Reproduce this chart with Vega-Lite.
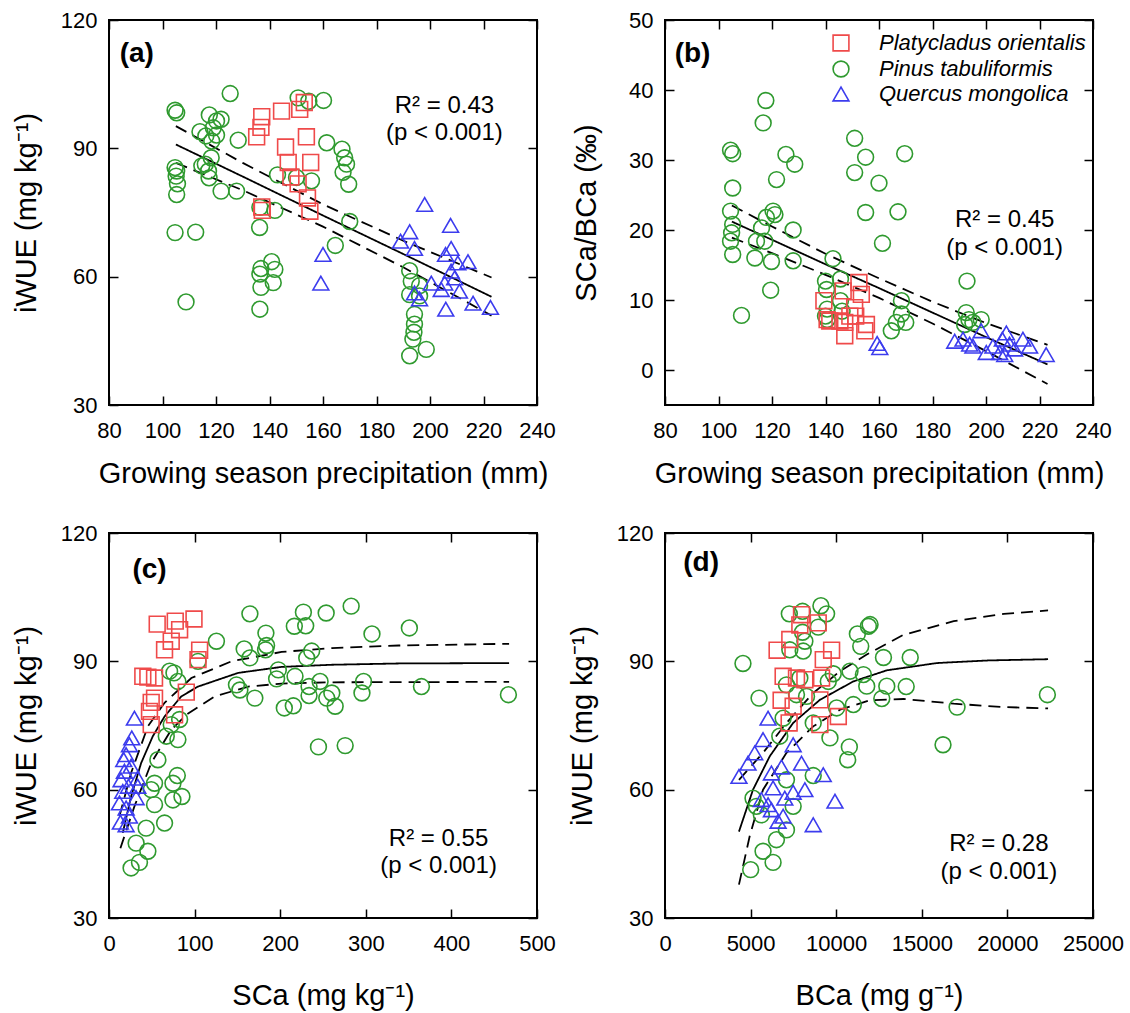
{
  "$schema": "https://vega.github.io/schema/vega-lite/v6.json",
  "padding": {"left": 11, "top": 8, "right": 5, "bottom": 5},
  "background": "white",
  "datasets": {
    "pA": [
      {"x":104.7,"y":98.9,"s":"Pinus tabuliformis"},{"x":105.3,"y":98.3,"s":"Pinus tabuliformis"},{"x":125.3,"y":102.8,"s":"Pinus tabuliformis"},{"x":117.5,"y":97.8,"s":"Pinus tabuliformis"},{"x":120.2,"y":96.4,"s":"Pinus tabuliformis"},{"x":121.9,"y":96.8,"s":"Pinus tabuliformis"},{"x":119,"y":94.8,"s":"Pinus tabuliformis"},{"x":114,"y":93.9,"s":"Pinus tabuliformis"},{"x":116.2,"y":92.9,"s":"Pinus tabuliformis"},{"x":120.2,"y":93.1,"s":"Pinus tabuliformis"},{"x":118.4,"y":91.7,"s":"Pinus tabuliformis"},{"x":128.3,"y":91.9,"s":"Pinus tabuliformis"},{"x":150.7,"y":101.8,"s":"Pinus tabuliformis"},{"x":154.7,"y":101,"s":"Pinus tabuliformis"},{"x":160.2,"y":101.2,"s":"Pinus tabuliformis"},{"x":161.4,"y":91.3,"s":"Pinus tabuliformis"},{"x":167.1,"y":89.8,"s":"Pinus tabuliformis"},{"x":168.1,"y":87.8,"s":"Pinus tabuliformis"},{"x":168.8,"y":86.3,"s":"Pinus tabuliformis"},{"x":167.5,"y":84.4,"s":"Pinus tabuliformis"},{"x":169.6,"y":81.6,"s":"Pinus tabuliformis"},{"x":104.7,"y":85.5,"s":"Pinus tabuliformis"},{"x":105.3,"y":84.7,"s":"Pinus tabuliformis"},{"x":105.1,"y":83.5,"s":"Pinus tabuliformis"},{"x":105.6,"y":81.7,"s":"Pinus tabuliformis"},{"x":105.3,"y":79.2,"s":"Pinus tabuliformis"},{"x":118.2,"y":87.8,"s":"Pinus tabuliformis"},{"x":116,"y":86.3,"s":"Pinus tabuliformis"},{"x":117.2,"y":84.7,"s":"Pinus tabuliformis"},{"x":114.7,"y":85.9,"s":"Pinus tabuliformis"},{"x":117.4,"y":83.1,"s":"Pinus tabuliformis"},{"x":121.9,"y":80,"s":"Pinus tabuliformis"},{"x":127.7,"y":80,"s":"Pinus tabuliformis"},{"x":143,"y":83.8,"s":"Pinus tabuliformis"},{"x":150.1,"y":83.2,"s":"Pinus tabuliformis"},{"x":155.7,"y":82.4,"s":"Pinus tabuliformis"},{"x":104.7,"y":70.3,"s":"Pinus tabuliformis"},{"x":112.4,"y":70.4,"s":"Pinus tabuliformis"},{"x":108.8,"y":54.1,"s":"Pinus tabuliformis"},{"x":136.4,"y":76.2,"s":"Pinus tabuliformis"},{"x":142,"y":75.5,"s":"Pinus tabuliformis"},{"x":136.3,"y":71.5,"s":"Pinus tabuliformis"},{"x":136.8,"y":61.9,"s":"Pinus tabuliformis"},{"x":140.8,"y":63.5,"s":"Pinus tabuliformis"},{"x":142,"y":61.7,"s":"Pinus tabuliformis"},{"x":136.4,"y":60.6,"s":"Pinus tabuliformis"},{"x":141.4,"y":58.6,"s":"Pinus tabuliformis"},{"x":136.8,"y":57.5,"s":"Pinus tabuliformis"},{"x":136.4,"y":52.4,"s":"Pinus tabuliformis"},{"x":170,"y":72.9,"s":"Pinus tabuliformis"},{"x":164.6,"y":67.3,"s":"Pinus tabuliformis"},{"x":192.4,"y":61.4,"s":"Pinus tabuliformis"},{"x":193,"y":58.9,"s":"Pinus tabuliformis"},{"x":196.1,"y":57.9,"s":"Pinus tabuliformis"},{"x":196.1,"y":55.5,"s":"Pinus tabuliformis"},{"x":192.4,"y":55.8,"s":"Pinus tabuliformis"},{"x":194.2,"y":51.2,"s":"Pinus tabuliformis"},{"x":194.2,"y":48.9,"s":"Pinus tabuliformis"},{"x":194,"y":47,"s":"Pinus tabuliformis"},{"x":193.6,"y":45.4,"s":"Pinus tabuliformis"},{"x":192.4,"y":41.5,"s":"Pinus tabuliformis"},{"x":198.6,"y":43,"s":"Pinus tabuliformis"},
      {"x":137.1,"y":97.4,"s":"Platycladus orientalis"},{"x":136.8,"y":94.9,"s":"Platycladus orientalis"},{"x":135.2,"y":92.7,"s":"Platycladus orientalis"},{"x":144.5,"y":98.7,"s":"Platycladus orientalis"},{"x":151.3,"y":99.1,"s":"Platycladus orientalis"},{"x":153,"y":100.7,"s":"Platycladus orientalis"},{"x":153.8,"y":92.7,"s":"Platycladus orientalis"},{"x":146,"y":90.3,"s":"Platycladus orientalis"},{"x":147,"y":86.7,"s":"Platycladus orientalis"},{"x":155.4,"y":86.7,"s":"Platycladus orientalis"},{"x":148,"y":83.3,"s":"Platycladus orientalis"},{"x":150.7,"y":81.7,"s":"Platycladus orientalis"},{"x":154.2,"y":78.4,"s":"Platycladus orientalis"},{"x":137.1,"y":76.3,"s":"Platycladus orientalis"},{"x":137.3,"y":75.5,"s":"Platycladus orientalis"},{"x":155.1,"y":75.3,"s":"Platycladus orientalis"},
      {"x":198,"y":76.9,"s":"Quercus mongolica"},{"x":207.7,"y":72,"s":"Quercus mongolica"},{"x":192.4,"y":70.5,"s":"Quercus mongolica"},{"x":189,"y":68.3,"s":"Quercus mongolica"},{"x":194.2,"y":66.6,"s":"Quercus mongolica"},{"x":207.9,"y":66.6,"s":"Quercus mongolica"},{"x":205.8,"y":65.2,"s":"Quercus mongolica"},{"x":214.2,"y":63.5,"s":"Quercus mongolica"},{"x":210.4,"y":63.2,"s":"Quercus mongolica"},{"x":207.9,"y":61.3,"s":"Quercus mongolica"},{"x":209.2,"y":59.7,"s":"Quercus mongolica"},{"x":200.5,"y":58.5,"s":"Quercus mongolica"},{"x":205.5,"y":58.5,"s":"Quercus mongolica"},{"x":194.2,"y":56.2,"s":"Quercus mongolica"},{"x":196.1,"y":54.8,"s":"Quercus mongolica"},{"x":216.1,"y":53.8,"s":"Quercus mongolica"},{"x":222.6,"y":52.8,"s":"Quercus mongolica"},{"x":205.9,"y":52.4,"s":"Quercus mongolica"},{"x":160,"y":65.2,"s":"Quercus mongolica"},{"x":159.2,"y":58.5,"s":"Quercus mongolica"},{"x":204.2,"y":57,"s":"Quercus mongolica"},{"x":211,"y":56.6,"s":"Quercus mongolica"}
    ],
    "pB": [
      {"x":117.7,"y":38.5,"s":"Pinus tabuliformis"},{"x":116.7,"y":35.3,"s":"Pinus tabuliformis"},{"x":104.5,"y":31.4,"s":"Pinus tabuliformis"},{"x":105.3,"y":30.9,"s":"Pinus tabuliformis"},{"x":125.2,"y":30.8,"s":"Pinus tabuliformis"},{"x":128.5,"y":29.4,"s":"Pinus tabuliformis"},{"x":121.7,"y":27.2,"s":"Pinus tabuliformis"},{"x":105.3,"y":26,"s":"Pinus tabuliformis"},{"x":150.9,"y":33.1,"s":"Pinus tabuliformis"},{"x":155,"y":30.4,"s":"Pinus tabuliformis"},{"x":150.9,"y":28.2,"s":"Pinus tabuliformis"},{"x":160,"y":26.7,"s":"Pinus tabuliformis"},{"x":169.6,"y":30.9,"s":"Pinus tabuliformis"},{"x":155,"y":22.5,"s":"Pinus tabuliformis"},{"x":167.1,"y":22.6,"s":"Pinus tabuliformis"},{"x":104.5,"y":22.7,"s":"Pinus tabuliformis"},{"x":105.3,"y":20.8,"s":"Pinus tabuliformis"},{"x":104.9,"y":19.6,"s":"Pinus tabuliformis"},{"x":104.5,"y":18.4,"s":"Pinus tabuliformis"},{"x":105.3,"y":16.5,"s":"Pinus tabuliformis"},{"x":117.9,"y":21.8,"s":"Pinus tabuliformis"},{"x":120.4,"y":22.7,"s":"Pinus tabuliformis"},{"x":121.1,"y":22.2,"s":"Pinus tabuliformis"},{"x":116.1,"y":20.3,"s":"Pinus tabuliformis"},{"x":117.3,"y":18.4,"s":"Pinus tabuliformis"},{"x":114.2,"y":18.4,"s":"Pinus tabuliformis"},{"x":127.9,"y":20,"s":"Pinus tabuliformis"},{"x":127.9,"y":15.6,"s":"Pinus tabuliformis"},{"x":113.6,"y":16,"s":"Pinus tabuliformis"},{"x":119.8,"y":15.5,"s":"Pinus tabuliformis"},{"x":108.6,"y":7.8,"s":"Pinus tabuliformis"},{"x":119.5,"y":11.4,"s":"Pinus tabuliformis"},{"x":142.8,"y":15.9,"s":"Pinus tabuliformis"},{"x":161.3,"y":18.1,"s":"Pinus tabuliformis"},{"x":140,"y":12.7,"s":"Pinus tabuliformis"},{"x":140.4,"y":11.5,"s":"Pinus tabuliformis"},{"x":145.6,"y":13,"s":"Pinus tabuliformis"},{"x":145.6,"y":9.9,"s":"Pinus tabuliformis"},{"x":146.2,"y":8.4,"s":"Pinus tabuliformis"},{"x":140.6,"y":8.7,"s":"Pinus tabuliformis"},{"x":140,"y":7.7,"s":"Pinus tabuliformis"},{"x":140.6,"y":7.2,"s":"Pinus tabuliformis"},{"x":168.4,"y":9.9,"s":"Pinus tabuliformis"},{"x":168.4,"y":8,"s":"Pinus tabuliformis"},{"x":166.5,"y":6.8,"s":"Pinus tabuliformis"},{"x":164.6,"y":5.6,"s":"Pinus tabuliformis"},{"x":170,"y":6.8,"s":"Pinus tabuliformis"},{"x":192.9,"y":12.7,"s":"Pinus tabuliformis"},{"x":192.6,"y":8.2,"s":"Pinus tabuliformis"},{"x":193.6,"y":7.2,"s":"Pinus tabuliformis"},{"x":198.2,"y":7.2,"s":"Pinus tabuliformis"},{"x":195.1,"y":6.8,"s":"Pinus tabuliformis"},{"x":192,"y":6.5,"s":"Pinus tabuliformis"},
      {"x":139.4,"y":9.9,"s":"Platycladus orientalis"},{"x":140.6,"y":7.2,"s":"Platycladus orientalis"},{"x":141.6,"y":7,"s":"Platycladus orientalis"},{"x":146.6,"y":11.3,"s":"Platycladus orientalis"},{"x":152.5,"y":12.5,"s":"Platycladus orientalis"},{"x":153.4,"y":10.8,"s":"Platycladus orientalis"},{"x":150.9,"y":8.9,"s":"Platycladus orientalis"},{"x":151.3,"y":7.7,"s":"Platycladus orientalis"},{"x":147.2,"y":6.8,"s":"Platycladus orientalis"},{"x":147.2,"y":4.9,"s":"Platycladus orientalis"},{"x":155.3,"y":6.5,"s":"Platycladus orientalis"},{"x":154.7,"y":5.6,"s":"Platycladus orientalis"},{"x":149.1,"y":7.7,"s":"Platycladus orientalis"},{"x":145.4,"y":7,"s":"Platycladus orientalis"},
      {"x":159.3,"y":3.8,"s":"Quercus mongolica"},{"x":160.3,"y":3.2,"s":"Quercus mongolica"},{"x":188.3,"y":4.1,"s":"Quercus mongolica"},{"x":191.4,"y":4.4,"s":"Quercus mongolica"},{"x":198.2,"y":5.6,"s":"Quercus mongolica"},{"x":193.9,"y":3.7,"s":"Quercus mongolica"},{"x":200.1,"y":2.5,"s":"Quercus mongolica"},{"x":205.1,"y":2.5,"s":"Quercus mongolica"},{"x":206.1,"y":4.4,"s":"Quercus mongolica"},{"x":207.6,"y":5.3,"s":"Quercus mongolica"},{"x":208.8,"y":3.7,"s":"Quercus mongolica"},{"x":213.8,"y":4.4,"s":"Quercus mongolica"},{"x":216.3,"y":3.4,"s":"Quercus mongolica"},{"x":222.5,"y":2.2,"s":"Quercus mongolica"},{"x":210.7,"y":3,"s":"Quercus mongolica"},{"x":202.6,"y":3.4,"s":"Quercus mongolica"},{"x":195.1,"y":3.4,"s":"Quercus mongolica"},{"x":207,"y":2.2,"s":"Quercus mongolica"}
    ],
    "pC": [
      {"x":164.6,"y":101.1,"s":"Pinus tabuliformis"},{"x":227.1,"y":101.5,"s":"Pinus tabuliformis"},{"x":253.7,"y":101.3,"s":"Pinus tabuliformis"},{"x":282.9,"y":102.9,"s":"Pinus tabuliformis"},{"x":216.5,"y":98.2,"s":"Pinus tabuliformis"},{"x":229.8,"y":98.3,"s":"Pinus tabuliformis"},{"x":307.2,"y":96.4,"s":"Pinus tabuliformis"},{"x":350.9,"y":97.8,"s":"Pinus tabuliformis"},{"x":183.3,"y":96.6,"s":"Pinus tabuliformis"},{"x":125.5,"y":94.7,"s":"Pinus tabuliformis"},{"x":157.9,"y":92.9,"s":"Pinus tabuliformis"},{"x":184.1,"y":93.7,"s":"Pinus tabuliformis"},{"x":182.9,"y":92.7,"s":"Pinus tabuliformis"},{"x":164.6,"y":90.8,"s":"Pinus tabuliformis"},{"x":236.8,"y":92.4,"s":"Pinus tabuliformis"},{"x":231,"y":90.8,"s":"Pinus tabuliformis"},{"x":104,"y":90,"s":"Pinus tabuliformis"},{"x":75.9,"y":87.3,"s":"Pinus tabuliformis"},{"x":80.5,"y":85.3,"s":"Pinus tabuliformis"},{"x":197.8,"y":88,"s":"Pinus tabuliformis"},{"x":217.3,"y":86.5,"s":"Pinus tabuliformis"},{"x":195.8,"y":85.9,"s":"Pinus tabuliformis"},{"x":148.9,"y":84.5,"s":"Pinus tabuliformis"},{"x":152.9,"y":83.3,"s":"Pinus tabuliformis"},{"x":170.4,"y":81.4,"s":"Pinus tabuliformis"},{"x":246.6,"y":85.3,"s":"Pinus tabuliformis"},{"x":233.7,"y":84.1,"s":"Pinus tabuliformis"},{"x":233.7,"y":82,"s":"Pinus tabuliformis"},{"x":260.3,"y":82.6,"s":"Pinus tabuliformis"},{"x":254.4,"y":81.4,"s":"Pinus tabuliformis"},{"x":264.2,"y":79.5,"s":"Pinus tabuliformis"},{"x":297.4,"y":85.3,"s":"Pinus tabuliformis"},{"x":295.5,"y":82.6,"s":"Pinus tabuliformis"},{"x":365,"y":84.1,"s":"Pinus tabuliformis"},{"x":466.6,"y":82.2,"s":"Pinus tabuliformis"},{"x":204.8,"y":79.1,"s":"Pinus tabuliformis"},{"x":215.3,"y":79.6,"s":"Pinus tabuliformis"},{"x":244.7,"y":70,"s":"Pinus tabuliformis"},{"x":275.9,"y":70.3,"s":"Pinus tabuliformis"},{"x":82.5,"y":76.4,"s":"Pinus tabuliformis"},{"x":80.5,"y":71.7,"s":"Pinus tabuliformis"},{"x":66.9,"y":72.5,"s":"Pinus tabuliformis"},{"x":57.1,"y":67,"s":"Pinus tabuliformis"},{"x":79.8,"y":63.3,"s":"Pinus tabuliformis"},{"x":74.7,"y":61.5,"s":"Pinus tabuliformis"},{"x":53.2,"y":61.5,"s":"Pinus tabuliformis"},{"x":49.3,"y":60,"s":"Pinus tabuliformis"},{"x":85.2,"y":58.4,"s":"Pinus tabuliformis"},{"x":74.7,"y":57.6,"s":"Pinus tabuliformis"},{"x":53.2,"y":56.5,"s":"Pinus tabuliformis"},{"x":64.9,"y":52.2,"s":"Pinus tabuliformis"},{"x":43.4,"y":51,"s":"Pinus tabuliformis"},{"x":31.7,"y":47.5,"s":"Pinus tabuliformis"},{"x":45.4,"y":45.6,"s":"Pinus tabuliformis"},{"x":35.6,"y":43,"s":"Pinus tabuliformis"},{"x":25.8,"y":41.7,"s":"Pinus tabuliformis"},{"x":70.8,"y":87.7,"s":"Pinus tabuliformis"},{"x":72.7,"y":75.2,"s":"Pinus tabuliformis"},
      {"x":56.3,"y":98.7,"s":"Platycladus orientalis"},{"x":77.4,"y":99.4,"s":"Platycladus orientalis"},{"x":82.5,"y":97.4,"s":"Platycladus orientalis"},{"x":99.3,"y":99.9,"s":"Platycladus orientalis"},{"x":72.7,"y":94.7,"s":"Platycladus orientalis"},{"x":64.9,"y":92.7,"s":"Platycladus orientalis"},{"x":105.9,"y":92.6,"s":"Platycladus orientalis"},{"x":104,"y":90.4,"s":"Platycladus orientalis"},{"x":39.5,"y":86.5,"s":"Platycladus orientalis"},{"x":45.4,"y":86.3,"s":"Platycladus orientalis"},{"x":53.2,"y":86.1,"s":"Platycladus orientalis"},{"x":90.3,"y":82.8,"s":"Platycladus orientalis"},{"x":53.2,"y":81.4,"s":"Platycladus orientalis"},{"x":49.3,"y":80.4,"s":"Platycladus orientalis"},{"x":47.3,"y":78.3,"s":"Platycladus orientalis"},{"x":76.6,"y":77.5,"s":"Platycladus orientalis"},{"x":49.3,"y":75.2,"s":"Platycladus orientalis"},
      {"x":29.7,"y":76.7,"s":"Quercus mongolica"},{"x":26.6,"y":72.1,"s":"Quercus mongolica"},{"x":23.9,"y":70.5,"s":"Quercus mongolica"},{"x":20,"y":68.2,"s":"Quercus mongolica"},{"x":17.2,"y":67,"s":"Quercus mongolica"},{"x":25.8,"y":65.5,"s":"Quercus mongolica"},{"x":18,"y":64.3,"s":"Quercus mongolica"},{"x":33.6,"y":62.7,"s":"Quercus mongolica"},{"x":14.1,"y":62.3,"s":"Quercus mongolica"},{"x":22.7,"y":60.8,"s":"Quercus mongolica"},{"x":16.1,"y":59.6,"s":"Quercus mongolica"},{"x":31.7,"y":58.1,"s":"Quercus mongolica"},{"x":12.2,"y":56.9,"s":"Quercus mongolica"},{"x":20,"y":55.7,"s":"Quercus mongolica"},{"x":23.9,"y":53.8,"s":"Quercus mongolica"},{"x":13.3,"y":52.4,"s":"Quercus mongolica"},{"x":20,"y":51.8,"s":"Quercus mongolica"},{"x":33.6,"y":60.8,"s":"Quercus mongolica"}
    ],
    "pD": [
      {"x":7261,"y":101.1,"s":"Pinus tabuliformis"},{"x":8033,"y":101.7,"s":"Pinus tabuliformis"},{"x":9107,"y":103,"s":"Pinus tabuliformis"},{"x":9439,"y":101.1,"s":"Pinus tabuliformis"},{"x":8951,"y":98,"s":"Pinus tabuliformis"},{"x":8033,"y":96.8,"s":"Pinus tabuliformis"},{"x":11237,"y":96.4,"s":"Pinus tabuliformis"},{"x":11979,"y":98.6,"s":"Pinus tabuliformis"},{"x":11881,"y":98.2,"s":"Pinus tabuliformis"},{"x":11434,"y":93.5,"s":"Pinus tabuliformis"},{"x":8170,"y":94.7,"s":"Pinus tabuliformis"},{"x":8072,"y":92.4,"s":"Pinus tabuliformis"},{"x":7290,"y":92.7,"s":"Pinus tabuliformis"},{"x":12761,"y":90.9,"s":"Pinus tabuliformis"},{"x":14324,"y":90.9,"s":"Pinus tabuliformis"},{"x":4554,"y":89.5,"s":"Pinus tabuliformis"},{"x":9830,"y":87.1,"s":"Pinus tabuliformis"},{"x":10807,"y":87.7,"s":"Pinus tabuliformis"},{"x":11588,"y":86.9,"s":"Pinus tabuliformis"},{"x":7876,"y":86.1,"s":"Pinus tabuliformis"},{"x":9537,"y":85.3,"s":"Pinus tabuliformis"},{"x":7095,"y":84.5,"s":"Pinus tabuliformis"},{"x":11784,"y":84.2,"s":"Pinus tabuliformis"},{"x":12956,"y":84.2,"s":"Pinus tabuliformis"},{"x":14089,"y":84.1,"s":"Pinus tabuliformis"},{"x":7681,"y":82.2,"s":"Pinus tabuliformis"},{"x":8267,"y":81.8,"s":"Pinus tabuliformis"},{"x":5493,"y":81.4,"s":"Pinus tabuliformis"},{"x":11002,"y":79.9,"s":"Pinus tabuliformis"},{"x":12663,"y":81.3,"s":"Pinus tabuliformis"},{"x":17060,"y":79.3,"s":"Pinus tabuliformis"},{"x":22335,"y":82.2,"s":"Pinus tabuliformis"},{"x":10026,"y":79.1,"s":"Pinus tabuliformis"},{"x":8658,"y":75.6,"s":"Pinus tabuliformis"},{"x":9635,"y":72.1,"s":"Pinus tabuliformis"},{"x":10768,"y":70,"s":"Pinus tabuliformis"},{"x":10671,"y":67,"s":"Pinus tabuliformis"},{"x":16239,"y":70.5,"s":"Pinus tabuliformis"},{"x":6900,"y":76.7,"s":"Pinus tabuliformis"},{"x":6704,"y":72.5,"s":"Pinus tabuliformis"},{"x":8658,"y":63.3,"s":"Pinus tabuliformis"},{"x":5141,"y":58,"s":"Pinus tabuliformis"},{"x":7486,"y":56.1,"s":"Pinus tabuliformis"},{"x":5629,"y":54.1,"s":"Pinus tabuliformis"},{"x":7095,"y":50.6,"s":"Pinus tabuliformis"},{"x":6509,"y":48.3,"s":"Pinus tabuliformis"},{"x":5727,"y":45.6,"s":"Pinus tabuliformis"},{"x":6313,"y":43,"s":"Pinus tabuliformis"},{"x":5004,"y":41.3,"s":"Pinus tabuliformis"},{"x":7095,"y":62.3,"s":"Pinus tabuliformis"},{"x":5336,"y":56.1,"s":"Pinus tabuliformis"},
      {"x":7974,"y":100.9,"s":"Platycladus orientalis"},{"x":8951,"y":99,"s":"Platycladus orientalis"},{"x":7876,"y":98.5,"s":"Platycladus orientalis"},{"x":7290,"y":95.1,"s":"Platycladus orientalis"},{"x":6548,"y":92.6,"s":"Platycladus orientalis"},{"x":9732,"y":92.6,"s":"Platycladus orientalis"},{"x":9244,"y":90.4,"s":"Platycladus orientalis"},{"x":6900,"y":86.5,"s":"Platycladus orientalis"},{"x":7681,"y":86.1,"s":"Platycladus orientalis"},{"x":8170,"y":85.7,"s":"Platycladus orientalis"},{"x":9146,"y":86.1,"s":"Platycladus orientalis"},{"x":6783,"y":80.9,"s":"Platycladus orientalis"},{"x":7486,"y":79.5,"s":"Platycladus orientalis"},{"x":9048,"y":81,"s":"Platycladus orientalis"},{"x":10124,"y":77.1,"s":"Platycladus orientalis"},{"x":7251,"y":75.6,"s":"Platycladus orientalis"},{"x":9048,"y":75.2,"s":"Platycladus orientalis"},
      {"x":6020,"y":76.7,"s":"Quercus mongolica"},{"x":5727,"y":71.7,"s":"Quercus mongolica"},{"x":5239,"y":68.6,"s":"Quercus mongolica"},{"x":4848,"y":66.2,"s":"Quercus mongolica"},{"x":4320,"y":63.1,"s":"Quercus mongolica"},{"x":7486,"y":70.5,"s":"Quercus mongolica"},{"x":7974,"y":66.2,"s":"Quercus mongolica"},{"x":6802,"y":65.3,"s":"Quercus mongolica"},{"x":6216,"y":63.9,"s":"Quercus mongolica"},{"x":9244,"y":63.5,"s":"Quercus mongolica"},{"x":8170,"y":60,"s":"Quercus mongolica"},{"x":7486,"y":59.4,"s":"Quercus mongolica"},{"x":6997,"y":58,"s":"Quercus mongolica"},{"x":6313,"y":60.4,"s":"Quercus mongolica"},{"x":5629,"y":57.7,"s":"Quercus mongolica"},{"x":9928,"y":57.3,"s":"Quercus mongolica"},{"x":6216,"y":55.3,"s":"Quercus mongolica"},{"x":6900,"y":53.8,"s":"Quercus mongolica"},{"x":6607,"y":52.6,"s":"Quercus mongolica"},{"x":8658,"y":51.8,"s":"Quercus mongolica"},{"x":6020,"y":56.5,"s":"Quercus mongolica"}
    ],
    "lA": [
      {"x":105,"y":90.9,"b":"fit"},{"x":130,"y":83.4,"b":"fit"},{"x":160,"y":74.3,"b":"fit"},{"x":190,"y":65.3,"b":"fit"},{"x":223,"y":55.3,"b":"fit"},
      {"x":105,"y":95.2,"b":"upper"},{"x":130,"y":86.6,"b":"upper"},{"x":160,"y":76.9,"b":"upper"},{"x":190,"y":68.4,"b":"upper"},{"x":223,"y":59.8,"b":"upper"},
      {"x":105,"y":86.6,"b":"lower"},{"x":130,"y":80.2,"b":"lower"},{"x":160,"y":71.7,"b":"lower"},{"x":190,"y":62.2,"b":"lower"},{"x":223,"y":50.9,"b":"lower"}
    ],
    "lB": [
      {"x":105,"y":21.2,"b":"fit"},{"x":120,"y":18.6,"b":"fit"},{"x":140,"y":15.1,"b":"fit"},{"x":160,"y":11.7,"b":"fit"},{"x":180,"y":8.2,"b":"fit"},{"x":200,"y":4.7,"b":"fit"},{"x":223,"y":0.8,"b":"fit"},
      {"x":105,"y":23.5,"b":"upper"},{"x":120,"y":20.5,"b":"upper"},{"x":140,"y":16.6,"b":"upper"},{"x":160,"y":13.1,"b":"upper"},{"x":180,"y":9.75,"b":"upper"},{"x":200,"y":6.7,"b":"upper"},{"x":223,"y":3.6,"b":"upper"},
      {"x":105,"y":18.9,"b":"lower"},{"x":120,"y":16.7,"b":"lower"},{"x":140,"y":13.6,"b":"lower"},{"x":160,"y":10.3,"b":"lower"},{"x":180,"y":6.65,"b":"lower"},{"x":200,"y":2.7,"b":"lower"},{"x":223,"y":-2.0,"b":"lower"}
    ],
    "lC": [
      {"x":16.1,"y":49.9,"b":"fit"},{"x":25.8,"y":58.4,"b":"fit"},{"x":37.5,"y":66.2,"b":"fit"},{"x":51.2,"y":72.5,"b":"fit"},{"x":64.9,"y":77.1,"b":"fit"},{"x":84.4,"y":81.8,"b":"fit"},{"x":104,"y":84.1,"b":"fit"},{"x":150.9,"y":87.3,"b":"fit"},{"x":201.7,"y":88.7,"b":"fit"},{"x":260.3,"y":89.2,"b":"fit"},{"x":338.4,"y":89.5,"b":"fit"},{"x":467.4,"y":89.6,"b":"fit"},
      {"x":12.2,"y":53.8,"b":"upper"},{"x":25.8,"y":63.9,"b":"upper"},{"x":45.4,"y":74.8,"b":"upper"},{"x":64.9,"y":80.3,"b":"upper"},{"x":96.2,"y":86.1,"b":"upper"},{"x":143,"y":90,"b":"upper"},{"x":201.7,"y":92.2,"b":"upper"},{"x":260.3,"y":93.1,"b":"upper"},{"x":338.4,"y":93.7,"b":"upper"},{"x":467.4,"y":94.1,"b":"upper"},
      {"x":13.3,"y":46.3,"b":"lower"},{"x":29.7,"y":56.1,"b":"lower"},{"x":49.3,"y":66.2,"b":"lower"},{"x":72.7,"y":74,"b":"lower"},{"x":90.3,"y":77.5,"b":"lower"},{"x":123.6,"y":81.8,"b":"lower"},{"x":162.6,"y":84.1,"b":"lower"},{"x":201.7,"y":84.8,"b":"lower"},{"x":260.3,"y":85.1,"b":"lower"},{"x":467.4,"y":85.2,"b":"lower"}
    ],
    "lD": [
      {"x":4320,"y":50.2,"b":"fit"},{"x":5141,"y":60,"b":"fit"},{"x":6118,"y":67.8,"b":"fit"},{"x":7486,"y":75.6,"b":"fit"},{"x":9048,"y":81,"b":"fit"},{"x":11002,"y":85.3,"b":"fit"},{"x":12956,"y":87.9,"b":"fit"},{"x":15886,"y":89.6,"b":"fit"},{"x":18817,"y":90.2,"b":"fit"},{"x":22375,"y":90.5,"b":"fit"},
      {"x":4320,"y":62.3,"b":"upper"},{"x":5727,"y":68.6,"b":"upper"},{"x":7095,"y":75.6,"b":"upper"},{"x":8658,"y":82.6,"b":"upper"},{"x":10221,"y":87.7,"b":"upper"},{"x":11784,"y":91.6,"b":"upper"},{"x":13933,"y":96.2,"b":"upper"},{"x":16864,"y":99.4,"b":"upper"},{"x":19795,"y":101.1,"b":"upper"},{"x":22375,"y":101.9,"b":"upper"},
      {"x":4320,"y":37.8,"b":"lower"},{"x":4946,"y":49.1,"b":"lower"},{"x":5727,"y":60,"b":"lower"},{"x":7095,"y":68.6,"b":"lower"},{"x":8658,"y":74.8,"b":"lower"},{"x":10221,"y":78.7,"b":"lower"},{"x":11979,"y":80.9,"b":"lower"},{"x":13933,"y":81.2,"b":"lower"},{"x":16864,"y":80.1,"b":"lower"},{"x":19795,"y":79.3,"b":"lower"},{"x":22375,"y":79,"b":"lower"}
    ],
    "tA": [{"x":205.4,"y":99.9,"t":"R² = 0.43"},{"x":205.4,"y":93.6,"t":"(p < 0.001)"}],
    "tB": [{"x":207,"y":21.5,"t":"R² = 0.45"},{"x":207,"y":17.5,"t":"(p < 0.001)"}],
    "tC": [{"x":385,"y":48.5,"t":"R² = 0.55"},{"x":385,"y":42.1,"t":"(p < 0.001)"}],
    "tD": [{"x":19500,"y":47.2,"t":"R² = 0.28"},{"x":19500,"y":40.7,"t":"(p < 0.001)"}],
    "kA": [{"x":90.4,"y":112,"t":"(a)"}],
    "kB": [{"x":90.3,"y":45.2,"t":"(b)"}],
    "kC": [{"x":47.3,"y":111.3,"t":"(c)"}],
    "kD": [{"x":2110,"y":113,"t":"(d)"}]
  },
  "columns": 2,
  "spacing": 128,
  "bounds": "flush",
  "resolve": {"legend": {"color": "independent", "shape": "independent"}},
  "concat": [
    {
      "width": 428, "height": 385,
      "resolve": {"axis": {"x": "independent", "y": "independent"}},
      "layer": [
        {"data": {"name": "lA"}, "mark": {"type": "line", "color": "black", "strokeWidth": 1.8},
         "encoding": {
           "x": {"field": "x", "type": "quantitative", "scale": {"domain": [80, 240], "nice": false, "zero": false}, "axis": {"orient": "bottom", "values": [80,100,120,140,160,180,200,220,240], "title": "Growing season precipitation (mm)", "titleY": 77, "titleBaseline": "alphabetic"}},
           "y": {"field": "y", "type": "quantitative", "scale": {"domain": [30, 120], "nice": false, "zero": false}, "axis": {"orient": "left", "values": [30,60,90,120], "title": "iWUE (mg kg⁻¹)", "titleX": -74, "titleBaseline": "alphabetic"}},
           "detail": {"field": "b"},
           "strokeDash": {"field": "b", "type": "nominal", "scale": {"domain": ["fit","upper","lower"], "range": [[1,0],[12,7],[12,7]]}, "legend": null}
         }},
        {"data": {"name": "pA"}, "mark": {"type": "point", "filled": false, "size": 250, "strokeWidth": 1.6, "opacity": 1},
         "encoding": {
           "x": {"field": "x", "type": "quantitative", "scale": {"domain": [80, 240], "nice": false, "zero": false}, "axis": null},
           "y": {"field": "y", "type": "quantitative", "scale": {"domain": [30, 120], "nice": false, "zero": false}, "axis": null},
           "color": {"field": "s", "type": "nominal", "scale": {"domain": ["Platycladus orientalis","Pinus tabuliformis","Quercus mongolica"], "range": ["#ef4a4a","#2f9a2f","#3c3cee"]}, "legend": null},
           "shape": {"field": "s", "type": "nominal", "scale": {"domain": ["Platycladus orientalis","Pinus tabuliformis","Quercus mongolica"], "range": ["square","circle","triangle-up"]}, "legend": null}
         }},
        {"data": {"name": "tA"}, "mark": {"type": "text", "fontSize": 24, "align": "center", "baseline": "middle", "color": "black"},
         "encoding": {
           "x": {"field": "x", "type": "quantitative", "scale": {"domain": [80, 240], "nice": false, "zero": false}, "axis": null},
           "y": {"field": "y", "type": "quantitative", "scale": {"domain": [30, 120], "nice": false, "zero": false}, "axis": null},
           "text": {"field": "t"}
         }},
        {"data": {"name": "kA"}, "mark": {"type": "text", "fontSize": 28, "fontWeight": "bold", "align": "center", "baseline": "middle", "color": "black"},
         "encoding": {
           "x": {"field": "x", "type": "quantitative", "scale": {"domain": [80, 240], "nice": false, "zero": false}, "axis": null},
           "y": {"field": "y", "type": "quantitative", "scale": {"domain": [30, 120], "nice": false, "zero": false}, "axis": null},
           "text": {"field": "t"}
         }},
        {"data": {"name": "kA"}, "mark": {"type": "point", "opacity": 0},
         "encoding": {
           "x": {"field": "x", "type": "quantitative", "scale": {"domain": [80, 240], "nice": false, "zero": false}, "axis": {"orient": "top", "values": [80,100,120,140,160,180,200,220,240], "labels": false, "title": null}},
           "y": {"field": "y", "type": "quantitative", "scale": {"domain": [30, 120], "nice": false, "zero": false}, "axis": {"orient": "right", "values": [30,60,90,120], "labels": false, "title": null}}
         }}
      ]
    },
    {
      "width": 428, "height": 385,
      "resolve": {"axis": {"x": "independent", "y": "independent"}},
      "layer": [
        {"data": {"name": "lB"}, "mark": {"type": "line", "color": "black", "strokeWidth": 1.8},
         "encoding": {
           "x": {"field": "x", "type": "quantitative", "scale": {"domain": [80, 240], "nice": false, "zero": false}, "axis": {"orient": "bottom", "values": [80,100,120,140,160,180,200,220,240], "title": "Growing season precipitation (mm)", "titleY": 77, "titleBaseline": "alphabetic"}},
           "y": {"field": "y", "type": "quantitative", "scale": {"domain": [-5, 50], "nice": false, "zero": false}, "axis": {"orient": "left", "values": [0,10,20,30,40,50], "title": "SCa/BCa (‰)", "titleX": -70, "titleBaseline": "alphabetic"}},
           "detail": {"field": "b"},
           "strokeDash": {"field": "b", "type": "nominal", "scale": {"domain": ["fit","upper","lower"], "range": [[1,0],[12,7],[12,7]]}, "legend": null}
         }},
        {"data": {"name": "pB"}, "mark": {"type": "point", "filled": false, "size": 250, "strokeWidth": 1.6, "opacity": 1},
         "encoding": {
           "x": {"field": "x", "type": "quantitative", "scale": {"domain": [80, 240], "nice": false, "zero": false}, "axis": null},
           "y": {"field": "y", "type": "quantitative", "scale": {"domain": [-5, 50], "nice": false, "zero": false}, "axis": null},
           "color": {"field": "s", "type": "nominal", "scale": {"domain": ["Platycladus orientalis","Pinus tabuliformis","Quercus mongolica"], "range": ["#ef4a4a","#2f9a2f","#3c3cee"]},
             "legend": {"orient": "none", "legendX": 165, "legendY": 12, "title": null, "padding": 0, "labelFontSize": 22, "labelFontStyle": "italic", "labelColor": "black", "labelLimit": 400, "symbolSize": 250, "symbolStrokeWidth": 1.6, "labelOffset": 27, "rowPadding": 2}},
           "shape": {"field": "s", "type": "nominal", "scale": {"domain": ["Platycladus orientalis","Pinus tabuliformis","Quercus mongolica"], "range": ["square","circle","triangle-up"]},
             "legend": {"orient": "none", "legendX": 165, "legendY": 12, "title": null, "padding": 0, "labelFontSize": 22, "labelFontStyle": "italic", "labelColor": "black", "labelLimit": 400, "symbolSize": 250, "symbolStrokeWidth": 1.6, "labelOffset": 27, "rowPadding": 2}}
         }},
        {"data": {"name": "tB"}, "mark": {"type": "text", "fontSize": 24, "align": "center", "baseline": "middle", "color": "black"},
         "encoding": {
           "x": {"field": "x", "type": "quantitative", "scale": {"domain": [80, 240], "nice": false, "zero": false}, "axis": null},
           "y": {"field": "y", "type": "quantitative", "scale": {"domain": [-5, 50], "nice": false, "zero": false}, "axis": null},
           "text": {"field": "t"}
         }},
        {"data": {"name": "kB"}, "mark": {"type": "text", "fontSize": 28, "fontWeight": "bold", "align": "center", "baseline": "middle", "color": "black"},
         "encoding": {
           "x": {"field": "x", "type": "quantitative", "scale": {"domain": [80, 240], "nice": false, "zero": false}, "axis": null},
           "y": {"field": "y", "type": "quantitative", "scale": {"domain": [-5, 50], "nice": false, "zero": false}, "axis": null},
           "text": {"field": "t"}
         }},
        {"data": {"name": "kB"}, "mark": {"type": "point", "opacity": 0},
         "encoding": {
           "x": {"field": "x", "type": "quantitative", "scale": {"domain": [80, 240], "nice": false, "zero": false}, "axis": {"orient": "top", "values": [80,100,120,140,160,180,200,220,240], "labels": false, "title": null}},
           "y": {"field": "y", "type": "quantitative", "scale": {"domain": [-5, 50], "nice": false, "zero": false}, "axis": {"orient": "right", "values": [0,10,20,30,40,50], "labels": false, "title": null}}
         }}
      ]
    },
    {
      "width": 428, "height": 385,
      "resolve": {"axis": {"x": "independent", "y": "independent"}},
      "layer": [
        {"data": {"name": "lC"}, "mark": {"type": "line", "color": "black", "strokeWidth": 1.8},
         "encoding": {
           "x": {"field": "x", "type": "quantitative", "scale": {"domain": [0, 500], "nice": false, "zero": false}, "axis": {"orient": "bottom", "values": [0,100,200,300,400,500], "title": "SCa (mg kg⁻¹)", "titleY": 86, "titleBaseline": "alphabetic"}},
           "y": {"field": "y", "type": "quantitative", "scale": {"domain": [30, 120], "nice": false, "zero": false}, "axis": {"orient": "left", "values": [30,60,90,120], "title": "iWUE (mg kg⁻¹)", "titleX": -74, "titleBaseline": "alphabetic"}},
           "detail": {"field": "b"},
           "strokeDash": {"field": "b", "type": "nominal", "scale": {"domain": ["fit","upper","lower"], "range": [[1,0],[12,7],[12,7]]}, "legend": null}
         }},
        {"data": {"name": "pC"}, "mark": {"type": "point", "filled": false, "size": 250, "strokeWidth": 1.6, "opacity": 1},
         "encoding": {
           "x": {"field": "x", "type": "quantitative", "scale": {"domain": [0, 500], "nice": false, "zero": false}, "axis": null},
           "y": {"field": "y", "type": "quantitative", "scale": {"domain": [30, 120], "nice": false, "zero": false}, "axis": null},
           "color": {"field": "s", "type": "nominal", "scale": {"domain": ["Platycladus orientalis","Pinus tabuliformis","Quercus mongolica"], "range": ["#ef4a4a","#2f9a2f","#3c3cee"]}, "legend": null},
           "shape": {"field": "s", "type": "nominal", "scale": {"domain": ["Platycladus orientalis","Pinus tabuliformis","Quercus mongolica"], "range": ["square","circle","triangle-up"]}, "legend": null}
         }},
        {"data": {"name": "tC"}, "mark": {"type": "text", "fontSize": 24, "align": "center", "baseline": "middle", "color": "black"},
         "encoding": {
           "x": {"field": "x", "type": "quantitative", "scale": {"domain": [0, 500], "nice": false, "zero": false}, "axis": null},
           "y": {"field": "y", "type": "quantitative", "scale": {"domain": [30, 120], "nice": false, "zero": false}, "axis": null},
           "text": {"field": "t"}
         }},
        {"data": {"name": "kC"}, "mark": {"type": "text", "fontSize": 28, "fontWeight": "bold", "align": "center", "baseline": "middle", "color": "black"},
         "encoding": {
           "x": {"field": "x", "type": "quantitative", "scale": {"domain": [0, 500], "nice": false, "zero": false}, "axis": null},
           "y": {"field": "y", "type": "quantitative", "scale": {"domain": [30, 120], "nice": false, "zero": false}, "axis": null},
           "text": {"field": "t"}
         }},
        {"data": {"name": "kC"}, "mark": {"type": "point", "opacity": 0},
         "encoding": {
           "x": {"field": "x", "type": "quantitative", "scale": {"domain": [0, 500], "nice": false, "zero": false}, "axis": {"orient": "top", "values": [0,100,200,300,400,500], "labels": false, "title": null}},
           "y": {"field": "y", "type": "quantitative", "scale": {"domain": [30, 120], "nice": false, "zero": false}, "axis": {"orient": "right", "values": [30,60,90,120], "labels": false, "title": null}}
         }}
      ]
    },
    {
      "width": 428, "height": 385,
      "resolve": {"axis": {"x": "independent", "y": "independent"}},
      "layer": [
        {"data": {"name": "lD"}, "mark": {"type": "line", "color": "black", "strokeWidth": 1.8},
         "encoding": {
           "x": {"field": "x", "type": "quantitative", "scale": {"domain": [0, 25000], "nice": false, "zero": false}, "axis": {"orient": "bottom", "values": [0,5000,10000,15000,20000,25000], "format": "d", "title": "BCa (mg g⁻¹)", "titleY": 86, "titleBaseline": "alphabetic"}},
           "y": {"field": "y", "type": "quantitative", "scale": {"domain": [30, 120], "nice": false, "zero": false}, "axis": {"orient": "left", "values": [30,60,90,120], "title": "iWUE (mg kg⁻¹)", "titleX": -74, "titleBaseline": "alphabetic"}},
           "detail": {"field": "b"},
           "strokeDash": {"field": "b", "type": "nominal", "scale": {"domain": ["fit","upper","lower"], "range": [[1,0],[12,7],[12,7]]}, "legend": null}
         }},
        {"data": {"name": "pD"}, "mark": {"type": "point", "filled": false, "size": 250, "strokeWidth": 1.6, "opacity": 1},
         "encoding": {
           "x": {"field": "x", "type": "quantitative", "scale": {"domain": [0, 25000], "nice": false, "zero": false}, "axis": null},
           "y": {"field": "y", "type": "quantitative", "scale": {"domain": [30, 120], "nice": false, "zero": false}, "axis": null},
           "color": {"field": "s", "type": "nominal", "scale": {"domain": ["Platycladus orientalis","Pinus tabuliformis","Quercus mongolica"], "range": ["#ef4a4a","#2f9a2f","#3c3cee"]}, "legend": null},
           "shape": {"field": "s", "type": "nominal", "scale": {"domain": ["Platycladus orientalis","Pinus tabuliformis","Quercus mongolica"], "range": ["square","circle","triangle-up"]}, "legend": null}
         }},
        {"data": {"name": "tD"}, "mark": {"type": "text", "fontSize": 24, "align": "center", "baseline": "middle", "color": "black"},
         "encoding": {
           "x": {"field": "x", "type": "quantitative", "scale": {"domain": [0, 25000], "nice": false, "zero": false}, "axis": null},
           "y": {"field": "y", "type": "quantitative", "scale": {"domain": [30, 120], "nice": false, "zero": false}, "axis": null},
           "text": {"field": "t"}
         }},
        {"data": {"name": "kD"}, "mark": {"type": "text", "fontSize": 28, "fontWeight": "bold", "align": "center", "baseline": "middle", "color": "black"},
         "encoding": {
           "x": {"field": "x", "type": "quantitative", "scale": {"domain": [0, 25000], "nice": false, "zero": false}, "axis": null},
           "y": {"field": "y", "type": "quantitative", "scale": {"domain": [30, 120], "nice": false, "zero": false}, "axis": null},
           "text": {"field": "t"}
         }},
        {"data": {"name": "kD"}, "mark": {"type": "point", "opacity": 0},
         "encoding": {
           "x": {"field": "x", "type": "quantitative", "scale": {"domain": [0, 25000], "nice": false, "zero": false}, "axis": {"orient": "top", "values": [0,5000,10000,15000,20000,25000], "labels": false, "title": null}},
           "y": {"field": "y", "type": "quantitative", "scale": {"domain": [30, 120], "nice": false, "zero": false}, "axis": {"orient": "right", "values": [30,60,90,120], "labels": false, "title": null}}
         }}
      ]
    }
  ],
  "config": {
    "font": "Liberation Sans",
    "view": {"stroke": "black", "strokeWidth": 2},
    "axis": {"domain": false, "grid": false, "ticks": true, "tickSize": -9, "tickColor": "black", "tickWidth": 1.5, "labelFontSize": 22, "labelColor": "black", "labelFlush": false, "labelOverlap": false, "titleFontSize": 29, "titleFontWeight": "normal", "titleColor": "black"},
    "axisBottom": {"labelPadding": 24},
    "axisLeft": {"labelPadding": 21},
    "legend": {"labelFont": "Liberation Sans"}
  }
}
